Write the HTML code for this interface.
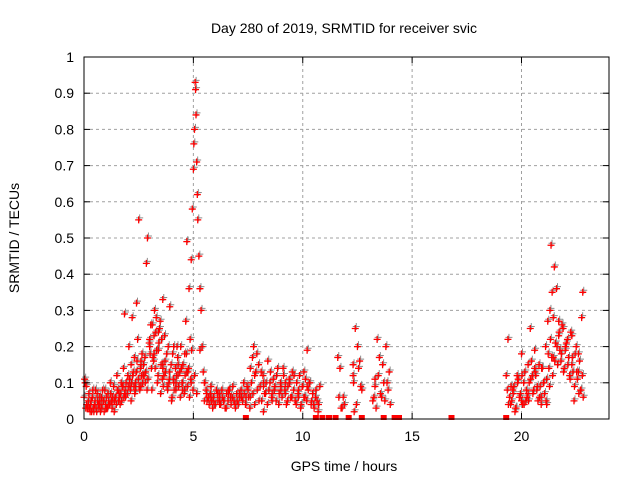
<!DOCTYPE html>
<html><head><meta charset="utf-8"><style>
body{margin:0;background:#fff;font-family:"Liberation Sans",sans-serif}
svg text{font-family:"Liberation Sans",sans-serif;font-size:14px;fill:#000}
</style></head><body>
<svg id="chart" width="640" height="480" xmlns="http://www.w3.org/2000/svg">
<text x="344" y="33" text-anchor="middle">Day 280 of 2019, SRMTID for receiver svic</text>
<text x="344" y="471" text-anchor="middle">GPS time / hours</text>
<text transform="translate(19,238) rotate(-90)" text-anchor="middle">SRMTID / TECUs</text>
<g id="grid"></g>
<g id="pts"></g>
<rect x="84" y="57" width="525" height="362" fill="none" stroke="#000" stroke-width="1"/>
<g id="ticks"></g>
</svg>
<script>
const xTicks=[0,5,10,15,20];
const yTicks=[0,0.1,0.2,0.3,0.4,0.5,0.6,0.7,0.8,0.9,1];
const yTickLabels=["0","0.1","0.2","0.3","0.4","0.5","0.6","0.7","0.8","0.9","1"];
const hours=[0.0,0.1,0.15,0.2,0.3,0.35,0.4,0.5,0.55,0.6,0.7,0.75,0.8,0.9,0.95,1.0,1.1,1.15,1.2,1.3,1.35,1.4,1.5,1.55,1.6,1.7,1.75,1.8,1.85,1.9,2.0,2.05,2.1,2.15,2.2,2.25,2.3,2.35,2.4,2.45,2.5,2.55,2.6,2.65,2.7,2.8,2.85,2.9,3.0,3.05,3.1,3.15,3.2,3.25,3.3,3.35,3.4,3.45,3.5,3.55,3.6,3.65,3.7,3.8,3.85,3.9,4.0,4.05,4.1,4.2,4.25,4.3,4.4,4.45,4.5,4.6,4.65,4.7,4.75,4.8,4.85,4.9,4.95,5.0,5.02,5.05,5.08,5.1,5.12,5.15,5.18,5.2,5.25,5.3,5.35,5.4,5.5,5.6,5.7,5.8,5.9,6.0,6.1,6.2,6.3,6.4,6.5,6.6,6.7,6.8,6.9,7.0,7.1,7.2,7.3,7.4,7.5,7.6,7.7,7.75,7.8,7.9,8.0,8.1,8.2,8.3,8.4,8.5,8.6,8.7,8.8,8.9,9.0,9.1,9.2,9.3,9.4,9.5,9.6,9.7,9.8,9.9,10.0,10.1,10.2,10.3,10.4,10.5,10.6,10.7,11.6,11.7,11.8,11.9,12.3,12.35,12.4,12.5,12.6,12.7,13.2,13.3,13.4,13.5,13.6,13.7,13.8,13.9,19.3,19.4,19.5,19.6,19.7,19.8,19.9,20.0,20.1,20.2,20.3,20.4,20.5,20.6,20.7,20.8,20.9,21.0,21.1,21.2,21.25,21.3,21.35,21.4,21.5,21.6,21.7,21.8,21.9,22.0,22.1,22.2,22.3,22.4,22.5,22.6,22.7,22.75,22.8,
0.05,0.25,0.45,0.65,0.85,1.05,1.25,1.45,1.65,1.85,2.15,2.35,2.6,2.75,3.0,3.2,3.4,3.6,3.9,4.1,4.3,4.5,4.7,4.9,5.05,5.15,5.3,5.5,5.8,6.2,6.6,7.0,7.4,7.8,8.2,8.6,9.0,9.4,9.8,10.2,20.0,20.3,20.6,20.9,21.15,21.45,21.7,22.0,22.3,22.6,2.4,2.6,3.2,3.6,4.2,4.6,7.6,8.2,9.2,12.3,13.3,10.05,
0.03,0.08,0.12,0.18,0.22,0.28,0.32,0.38,0.42,0.48,0.52,0.58,0.62,0.68,0.72,0.78,0.82,0.88,0.92,0.98,1.02,1.08,1.12,1.18,1.22,1.28,1.32,1.38,1.42,1.48,1.52,1.58,1.62,1.68,1.72,1.78,1.82,1.88,1.92,1.98,2.02,2.08,2.12,2.18,2.22,2.28,2.32,2.38,2.42,2.48,2.52,2.58,2.62,2.68,2.72,2.78,2.82,2.88,2.92,2.98,3.02,3.08,3.12,3.18,3.22,3.28,3.32,3.38,3.42,3.48,3.52,3.58,3.62,3.68,3.72,3.78,3.82,3.88,3.92,3.98,4.02,4.08,4.12,4.18,4.22,4.28,4.32,4.38,4.42,4.48,4.52,4.58,4.62,4.68,4.72,4.78,4.82,4.88,4.92,4.98,
5.45,5.52,5.58,5.62,5.68,5.72,5.78,5.82,5.88,5.92,5.98,6.05,6.12,6.18,6.25,6.32,6.38,6.45,6.52,6.58,6.65,6.72,6.78,6.85,6.92,6.98,7.05,7.12,7.18,7.25,7.32,7.38,7.45,7.52,7.58,7.65,7.72,7.85,7.92,7.98,8.05,8.12,8.18,8.25,8.32,8.38,8.45,8.52,8.58,8.65,8.72,8.78,8.85,8.92,8.98,9.05,9.12,9.18,9.25,9.32,9.38,9.45,9.52,9.58,9.65,9.72,9.78,9.85,9.92,9.98,10.05,10.12,10.18,10.25,10.32,10.38,10.45,10.52,10.58,10.65,10.72,10.78,
11.65,11.75,11.85,12.32,12.45,12.55,12.65,13.25,13.35,13.45,13.55,13.65,13.75,13.85,13.95,14.0,
19.35,19.45,19.55,19.65,19.75,19.85,19.95,20.05,20.15,20.25,20.35,20.45,20.55,20.65,20.75,20.85,20.95,21.05,21.15,21.22,21.28,21.32,21.38,21.45,21.55,21.65,21.75,21.85,21.95,22.05,22.15,22.25,22.35,22.45,22.55,22.65,22.72,22.78,22.82,
19.38,19.52,19.62,19.72,19.82,19.92,20.02,20.12,20.22,20.32,20.42,20.52,20.62,20.72,20.82,20.92,21.02,21.12,21.42,21.52,21.62,21.72,21.82,21.92,22.02,22.12,22.22,22.32,22.42,22.52,22.62];
const srmtid=[0.06,0.09,0.03,0.05,0.04,0.02,0.08,0.05,0.03,0.07,0.04,0.02,0.06,0.05,0.08,0.03,0.07,0.04,0.1,0.06,0.09,0.05,0.12,0.08,0.07,0.1,0.09,0.14,0.29,0.06,0.12,0.2,0.09,0.15,0.28,0.13,0.17,0.1,0.32,0.22,0.55,0.08,0.15,0.18,0.12,0.1,0.43,0.5,0.2,0.26,0.08,0.17,0.23,0.14,0.28,0.1,0.19,0.25,0.07,0.22,0.33,0.12,0.16,0.09,0.2,0.13,0.05,0.18,0.1,0.08,0.2,0.12,0.06,0.14,0.1,0.18,0.27,0.49,0.13,0.36,0.22,0.44,0.58,0.69,0.76,0.8,0.93,0.91,0.84,0.71,0.62,0.55,0.45,0.36,0.3,0.2,0.1,0.07,0.06,0.09,0.05,0.04,0.07,0.06,0.08,0.05,0.03,0.07,0.06,0.09,0.04,0.05,0.07,0.06,0.1,0.04,0.08,0.06,0.17,0.2,0.12,0.18,0.05,0.13,0.09,0.07,0.16,0.1,0.05,0.08,0.12,0.04,0.09,0.14,0.07,0.05,0.1,0.06,0.12,0.04,0.08,0.03,0.09,0.06,0.19,0.1,0.05,0.04,0.08,0.02,0.17,0.14,0.03,0.04,0.12,0.02,0.25,0.2,0.16,0.08,0.05,0.11,0.22,0.17,0.06,0.1,0.2,0.08,0.12,0.04,0.04,0.08,0.02,0.12,0.06,0.18,0.1,0.05,0.15,0.25,0.12,0.19,0.08,0.15,0.04,0.1,0.2,0.27,0.14,0.3,0.48,0.35,0.42,0.36,0.23,0.16,0.25,0.19,0.22,0.12,0.15,0.05,0.2,0.13,0.08,0.28,0.35,0.1,0.03,
0.02,0.04,0.08,0.03,0.05,0.06,0.04,0.07,0.05,0.08,0.16,0.12,0.22,0.18,0.24,0.14,0.11,0.2,0.15,0.08,0.13,0.1,0.12,0.07,0.19,0.05,0.06,0.04,0.08,0.05,0.06,0.04,0.1,0.07,0.08,0.11,0.06,0.09,0.05,0.07,0.14,0.06,0.04,0.17,0.27,0.2,0.23,0.18,0.13,0.09,0.18,0.15,0.1,0.08,0.14,0.02,0.1,0.15,0.09,0.13,0.11,0.03,
0.04,0.03,0.07,0.02,0.05,0.06,0.03,0.04,0.08,0.02,0.05,0.03,0.06,0.04,0.03,0.05,0.02,0.04,0.06,0.03,0.05,0.04,0.07,0.03,0.05,0.02,0.06,0.04,0.08,0.05,0.06,0.07,0.05,0.09,0.06,0.08,0.1,0.07,0.09,0.11,0.08,0.1,0.12,0.09,0.07,0.13,0.16,0.11,0.09,0.14,0.12,0.1,0.15,0.17,0.13,0.08,0.11,0.21,0.18,0.14,0.26,0.16,0.3,0.24,0.19,0.12,0.21,0.27,0.15,0.11,0.09,0.23,0.13,0.18,0.08,0.1,0.31,0.15,0.06,0.11,0.08,0.14,0.12,0.17,0.09,0.13,0.2,0.1,0.15,0.07,0.12,0.18,0.09,0.14,0.06,0.11,0.19,0.08,0.13,0.1,
0.08,0.05,0.06,0.04,0.07,0.05,0.03,0.06,0.04,0.08,0.05,0.07,0.04,0.06,0.05,0.03,0.07,0.05,0.08,0.04,0.06,0.05,0.03,0.07,0.04,0.06,0.08,0.05,0.07,0.04,0.09,0.06,0.03,0.1,0.07,0.13,0.08,0.15,0.09,0.05,0.12,0.07,0.1,0.04,0.08,0.13,0.06,0.11,0.09,0.05,0.14,0.07,0.1,0.06,0.12,0.08,0.04,0.09,0.11,0.06,0.13,0.08,0.05,0.1,0.07,0.12,0.04,0.09,0.06,0.11,0.05,0.08,0.1,0.04,0.07,0.03,0.06,0.05,0.04,0.09,0.06,0.03,
0.06,0.1,0.04,0.14,0.09,0.06,0.03,0.12,0.07,0.15,0.05,0.1,0.13,0.04,0.08,0.06,
0.05,0.09,0.03,0.11,0.07,0.04,0.13,0.06,0.1,0.16,0.08,0.12,0.05,0.09,0.14,0.07,0.11,0.18,0.09,0.22,0.17,0.28,0.21,0.15,0.19,0.26,0.14,0.21,0.17,0.24,0.13,0.18,0.11,0.16,0.08,0.12,0.06,0.22,0.09,
0.07,0.03,0.1,0.06,0.12,0.04,0.08,0.05,0.11,0.07,0.13,0.09,0.06,0.14,0.1,0.05,0.12,0.16,0.2,0.24,0.18,0.13,0.2,0.15,0.11,0.17,0.09,0.13,0.07,0.05,0.04];
const zeroHours=[7.4,10.6,10.9,11.2,11.5,12.1,12.7,13.7,14.2,14.4,16.8,19.3];
const X0=84,X1=609,Y0=419,Y1=57,XMAX=24;
const xs=h=>X0+(h/XMAX)*(X1-X0), ys=v=>Y0-v*(Y0-Y1);
const NS='http://www.w3.org/2000/svg';
const grid=document.getElementById('grid'),ticks=document.getElementById('ticks'),pts=document.getElementById('pts');
function mk(tag,attrs,parent){const e=document.createElementNS(NS,tag);for(const k in attrs)e.setAttribute(k,attrs[k]);parent.appendChild(e);return e;}
yTicks.forEach((v,i)=>{const y=ys(v);
 if(i>0&&i<yTicks.length-1){const g=mk('line',{x1:X0,x2:X1,y1:y,y2:y,stroke:'#a0a0a0','stroke-dasharray':'3,3'},grid);}
 const t=mk('line',{x1:X0,x2:X0+6,y1:y,y2:y,stroke:'#000'},ticks);
 const t2=mk('line',{x1:X1-6,x2:X1,y1:y,y2:y,stroke:'#000'},ticks);
 const l=mk('text',{x:X0-10,y:y+5,'text-anchor':'end'},ticks);l.textContent=yTickLabels[i];});
xTicks.forEach(h=>{const x=xs(h);
 if(h>0){const g=mk('line',{x1:x,x2:x,y1:Y1,y2:Y0,stroke:'#a0a0a0','stroke-dasharray':'3,3'},grid);}
 const t=mk('line',{x1:x,x2:x,y1:Y0,y2:Y0-6,stroke:'#000'},ticks);
 const t2=mk('line',{x1:x,x2:x,y1:Y1,y2:Y1+6,stroke:'#000'},ticks);
 const l=mk('text',{x:x,y:Y0+22,'text-anchor':'middle'},ticks);l.textContent=String(h);});
let d='',db='';
hours.forEach((h,i)=>{const x=xs(h),y=ys(srmtid[i]);
 d+=`M${x-3.5},${y}h7M${x},${y-3.5}v7`;
 db+=`M${x-2.5},${y-2}h7M${x+1},${y-5.5}v7`;});
const pb=mk('path',{d:db,stroke:'#404040','stroke-width':1,fill:'none',opacity:0.6},pts);


const pr=mk('path',{d:d,stroke:'#ff0000','stroke-width':1.3,fill:'none'},pts);


zeroHours.forEach(h=>{const r=mk('rect',{x:xs(h)-3,y:Y0-4,width:6,height:5,fill:'#ff0000'},pts);
 
 });
</script>
</body></html>
